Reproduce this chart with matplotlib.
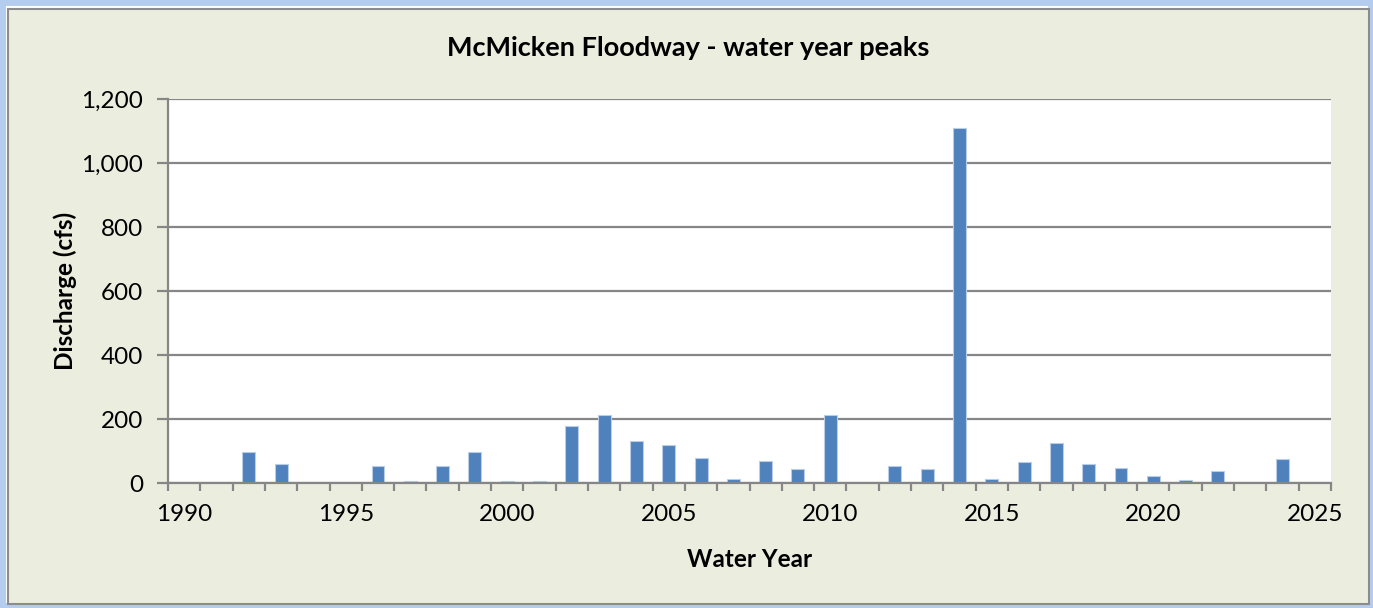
import matplotlib
matplotlib.use("Agg")
import matplotlib.pyplot as plt
from matplotlib.patches import Rectangle
from matplotlib.ticker import FuncFormatter, MultipleLocator

# water year peaks (cfs)
years = list(range(1990, 2026))
peaks = [0, 0, 96, 58, 0, 0, 52, 5, 52, 96,
         5, 7, 179, 211, 130, 120, 77, 13, 69, 43,
         213, 0, 52, 43, 1110, 13, 67, 124, 58, 48,
         21, 8, 39, 0, 75, 0]
year_labels = [1990, 1995, 2000, 2005, 2010, 2015, 2020, 2025]

plt.rcParams['font.family'] = ['Lato', 'DejaVu Sans']

W, H = 1373, 608
fig = plt.figure(figsize=(W / 100, H / 100), dpi=100)
fig.patch.set_facecolor('white')

# outer glow and chart panel
fig.add_artist(Rectangle((2 / W, 2 / H), 1 - 4 / W, 1 - 4 / H, transform=fig.transFigure,
                         facecolor='none', edgecolor='#B4CCEE', linewidth=5, zorder=0))
fig.add_artist(Rectangle((8 / W, 4 / H), 1 - 12 / W, 1 - 13 / H, transform=fig.transFigure,
                         facecolor='#EBEEDF', edgecolor='#8C8C8C', linewidth=1.5, zorder=0))

ax = fig.add_axes([168 / W, 1 - 483 / H, (1331 - 168) / W, (483 - 99) / H])
ax.set_facecolor('white')
ax.bar(years, peaks, width=0.4, color='#4F81BD', edgecolor='#B9CDE5', linewidth=0.8, zorder=3)

ax.set_xlim(1989.5, 2025.5)
ax.set_ylim(0, 1200)
ax.yaxis.set_major_locator(MultipleLocator(200))
ax.yaxis.set_major_formatter(FuncFormatter(lambda v, p: f'{int(v):,}'))
ax.grid(axis='y', color='#868686', linewidth=1.6, zorder=1)

ax.set_xticks(year_labels)
ax.set_xticklabels([str(y) for y in year_labels])
ax.set_xticks([y + 0.5 for y in years[:-1]] + [1989.5, 2025.5], minor=True)
ax.tick_params(axis='x', which='major', length=0, pad=15, labelsize=17.5)
ax.tick_params(axis='x', which='minor', length=6, width=1.6, color='#868686', direction='out')
ax.tick_params(axis='y', length=8, width=1.6, color='#868686', direction='out', labelsize=17.5, pad=10)

for s in ['top', 'right']:
    ax.spines[s].set_visible(False)
for s in ['left', 'bottom']:
    ax.spines[s].set_color('#868686')
    ax.spines[s].set_linewidth(1.6)
ax.spines['bottom'].set_zorder(4)

ax.set_xlabel('Water Year', fontsize=17.5, fontweight='bold', labelpad=17)
ax.set_ylabel('Discharge (cfs)', fontsize=17.5, fontweight='bold', labelpad=3)
fig.text(0.5 * (447 + 930) / W, 1 - 48 / H, 'McMicken Floodway - water year peaks',
         ha='center', va='center', fontsize=19.5, fontweight='bold')

fig.savefig('out.png', dpi=100)
